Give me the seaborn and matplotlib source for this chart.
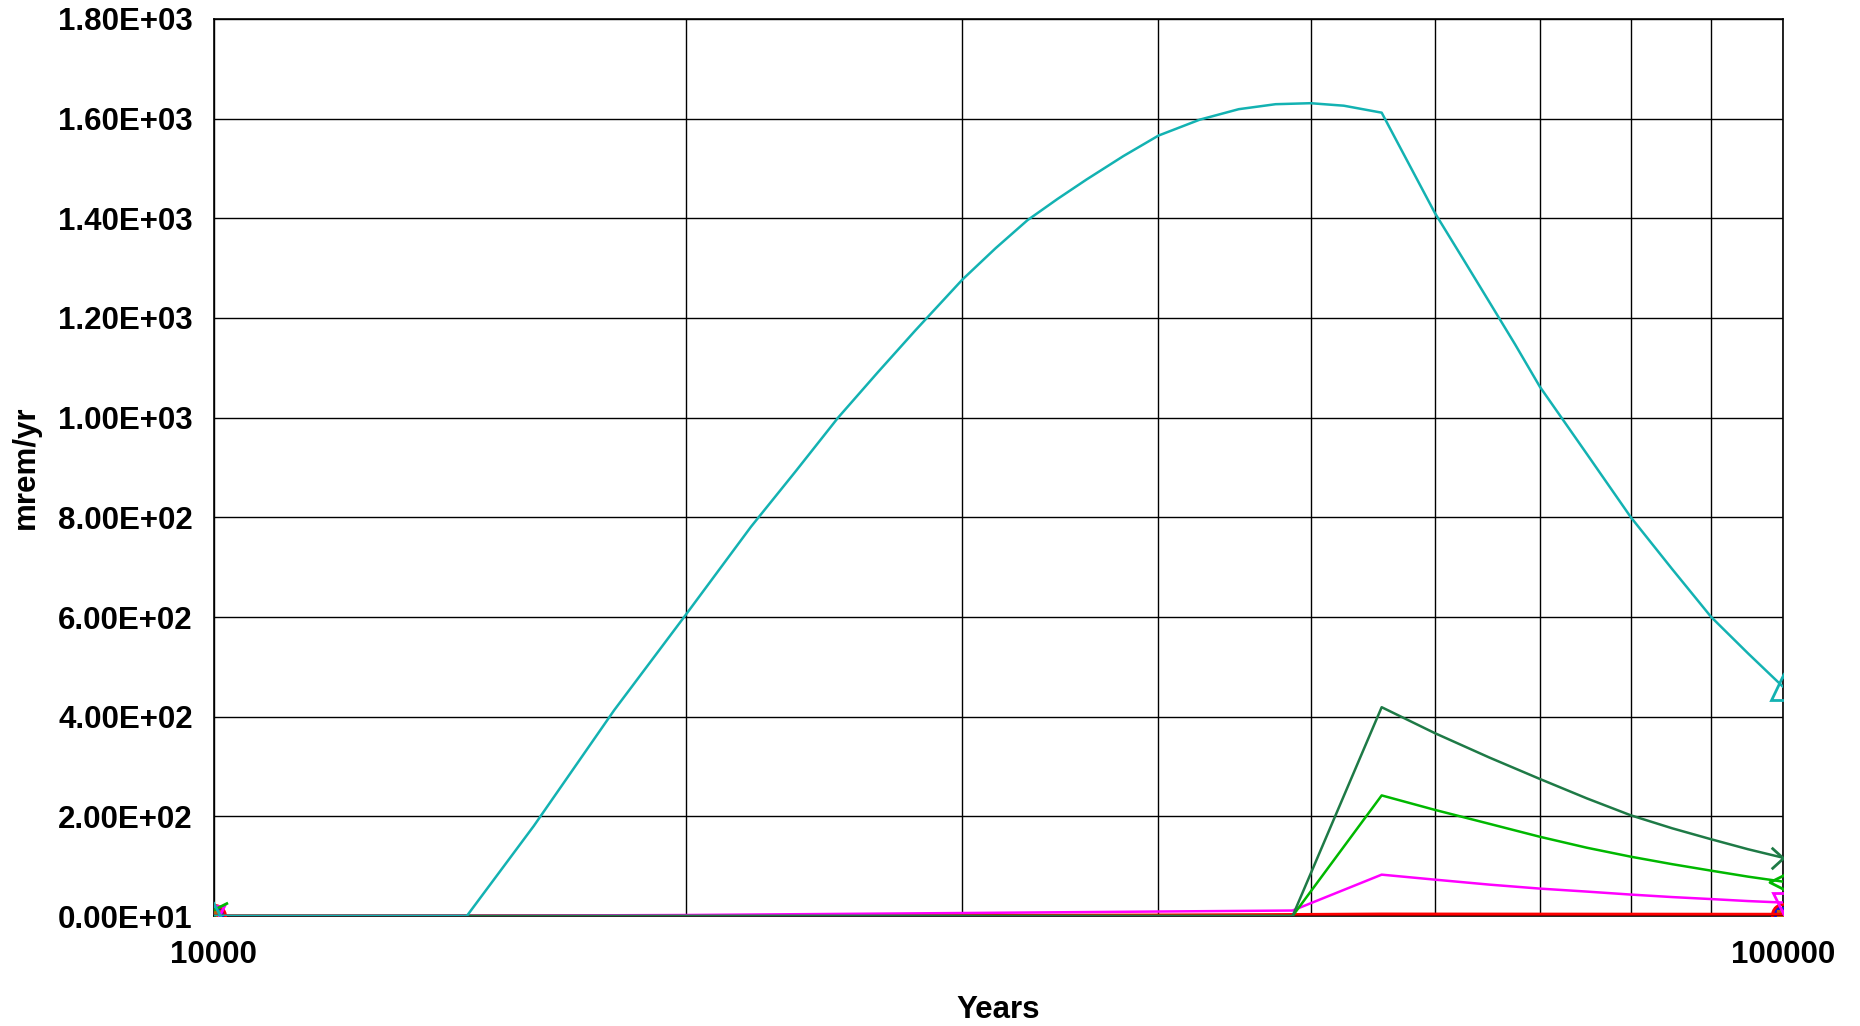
import numpy as np
import pandas as pd
import matplotlib
matplotlib.use('Agg')
import matplotlib.pyplot as plt
from matplotlib.path import Path
from matplotlib.ticker import FixedLocator, NullFormatter
import seaborn as sns

# Data (years vs mrem/yr)
teal_years = [10000, 12000, 14500, 16000, 18000, 20000, 22000, 23500, 25000, 26500,
              28000, 30000, 31500, 33000, 34500, 36000, 38000, 40000, 42500, 45000,
              47500, 50000, 52500, 55500, 60000, 62500, 65000, 67500, 70000, 75000,
              80000, 85000, 90000, 95000, 100000]
teal_dose = [0, 0, 0, 181, 413, 605, 781, 893, 1000, 1091,
             1175, 1277, 1340, 1396, 1439, 1478, 1525, 1566, 1598, 1619,
             1629, 1631, 1626, 1612, 1411, 1320, 1232, 1147, 1062, 927,
             800, 696, 600, 527, 460]

dkgreen_years = [10000, 48700, 55500, 60000, 65000, 70000, 75000, 80000, 85000, 90000, 95000, 100000]
dkgreen_dose = [0, 0, 419, 367, 318, 275, 236, 202, 176, 154, 134, 117]

green_years = [10000, 48700, 55500, 60000, 65000, 70000, 75000, 80000, 85000, 90000, 95000, 100000]
green_dose = [0, 0, 242, 213, 185, 159, 137, 119, 104, 91, 79, 69]

magenta_years = [10000, 14500, 20000, 30000, 40000, 48700, 55500, 60000, 65000, 70000,
                 75000, 80000, 85000, 90000, 95000, 100000]
magenta_dose = [0, 0.5, 2, 6, 9, 11, 83, 73, 63, 55, 49, 43, 38, 34, 30, 27]

red_years = [10000, 14500, 30000, 40000, 48700, 55500, 100000]
red_dose = [0, 0, 0.5, 1.5, 2.5, 3.5, 3]

blue_years = [10000, 55500, 100000]
blue_dose = [0, 0, 0]

brown_years = [10000, 55500, 100000]
brown_dose = [0, 0, 0]

dkred_years = [10000, 40000, 100000]
dkred_dose = [0, 0, 0]

y_ticks = [0, 200, 400, 600, 800, 1000, 1200, 1400, 1600, 1800]
y_tick_labels = ['0.00E+01', '2.00E+02', '4.00E+02', '6.00E+02', '8.00E+02',
                 '1.00E+03', '1.20E+03', '1.40E+03', '1.60E+03', '1.80E+03']
x_major = [10000, 100000]
x_major_labels = ['10000', '100000']
x_minor = [20000, 30000, 40000, 50000, 60000, 70000, 80000, 90000]

sns.set_style('white')
plt.rcParams['font.family'] = ['Liberation Sans', 'DejaVu Sans']
plt.rcParams['font.weight'] = 'bold'
plt.rcParams['text.color'] = 'black'
plt.rcParams['axes.labelcolor'] = 'black'
plt.rcParams['xtick.color'] = 'black'
plt.rcParams['ytick.color'] = 'black'

# open chevron markers (dark green apex sits on the point, green one is centred)
right_chev = Path([(-1.1, 1), (0, 0), (-1.1, -1)], [Path.MOVETO, Path.LINETO, Path.LINETO])
left_chev = Path([(1, 1), (-1, 0), (1, -1)], [Path.MOVETO, Path.LINETO, Path.LINETO])

fig = plt.figure(figsize=(18.6, 10.26), dpi=100)
ax = fig.add_axes([0.1148, 0.1072, 0.8438, 0.8743])


def draw(years, dose, color, marker, filled=False, ms=13, lw=1.8, z=3):
    df = pd.DataFrame({'Years': years, 'dose': dose})
    sns.lineplot(data=df, x='Years', y='dose', ax=ax, color=color, lw=lw,
                 marker=marker, markevery=[0, len(df) - 1], markersize=ms,
                 markeredgecolor=color, markeredgewidth=2,
                 markerfacecolor=color if filled else 'none', zorder=z)


draw(brown_years, brown_dose, '#C0600A', 's', filled=True, ms=11)
draw(blue_years, blue_dose, '#1010E0', 's', ms=12)
draw(red_years, red_dose, '#FF0000', 'o', lw=2.5, ms=16)
draw(dkred_years, dkred_dose, '#8B0000', None, lw=2)
draw(magenta_years, magenta_dose, '#FF00FF', 'v', ms=14)
draw(green_years, green_dose, '#00B800', left_chev, ms=19.5)
draw(dkgreen_years, dkgreen_dose, '#1E7A46', right_chev, ms=17)
draw(teal_years, teal_dose, '#13B2B2', '^', lw=1.8, ms=18)

ax.set_xscale('log')
ax.set_xlim(10000, 100000)
ax.set_ylim(0, 1800)
ax.xaxis.set_major_locator(FixedLocator(x_major))
ax.set_xticks(x_major, labels=x_major_labels)
ax.xaxis.set_minor_locator(FixedLocator(x_minor))
ax.xaxis.set_minor_formatter(NullFormatter())
ax.set_yticks(y_ticks, labels=y_tick_labels)

ax.grid(True, which='both', axis='x', color='black', lw=1)
ax.grid(True, which='major', axis='y', color='black', lw=1)
ax.set_axisbelow(True)

for s in ax.spines.values():
    s.set_color('black')
    s.set_linewidth(1.2)

ax.tick_params(axis='both', which='both', direction='out', length=6, width=1,
               color='#555555', labelsize=22.5, pad=11)
ax.tick_params(axis='y', pad=9)
for lab in ax.get_xticklabels() + ax.get_yticklabels():
    lab.set_fontweight('bold')

ax.set_xlabel('Years', fontsize=22.5, fontweight='bold', labelpad=18)
ax.set_ylabel('mrem/yr', fontsize=22.5, fontweight='bold', labelpad=12)

fig.savefig('out.png', dpi=100)
